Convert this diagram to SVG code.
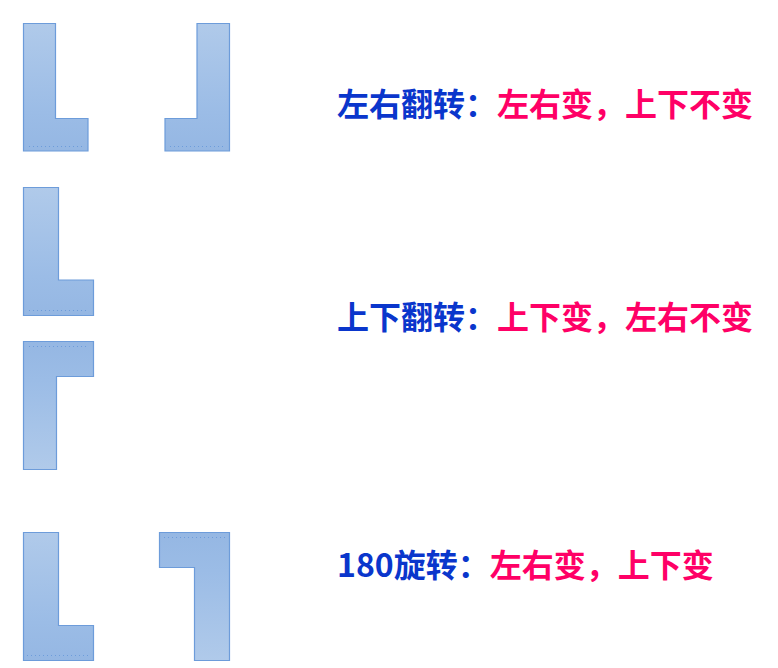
<svg xmlns="http://www.w3.org/2000/svg" width="778" height="668" viewBox="0 0 778 668">
<style>
.shape{stroke:#6d9cda;stroke-width:1.2}
.dots{fill:none;stroke:#6d9cda;stroke-width:1;stroke-dasharray:1 3}
.lbl{font-family:"Noto Sans CJK SC","Microsoft YaHei",sans-serif;font-weight:bold;font-size:32px}
.blue{fill:#0a36cc}
.pink{fill:#ff0066}
</style>
<defs>
<linearGradient id="gDown" x1="0" y1="0" x2="0" y2="1">
<stop offset="0" stop-color="#b0caea"/>
<stop offset="0.7" stop-color="#9bbce6"/>
<stop offset="1" stop-color="#95b7e3"/>
</linearGradient>
<linearGradient id="gUp" x1="0" y1="1" x2="0" y2="0">
<stop offset="0" stop-color="#b0caea"/>
<stop offset="0.7" stop-color="#9bbce6"/>
<stop offset="1" stop-color="#95b7e3"/>
</linearGradient>
</defs>
<rect width="778" height="668" fill="#ffffff"/>
<g id="shape-L-original">
<path class="shape" fill="url(#gDown)" d="M23.5,23.5 H55.5 V118.5 H88 V151 H23.5 Z"/>
<line class="dots" x1="29" y1="146.5" x2="83" y2="146.5"/>
</g>
<g id="shape-L-mirrored">
<path class="shape" fill="url(#gDown)" d="M197,23.5 H229.5 V151 H165 V118.5 H197 Z"/>
<line class="dots" x1="170" y1="146.5" x2="225" y2="146.5"/>
</g>
<g id="shape-L-upper">
<path class="shape" fill="url(#gDown)" d="M23.5,187.5 H58.5 V280 H93.5 V315.5 H23.5 Z"/>
<line class="dots" x1="29" y1="310.5" x2="88" y2="310.5"/>
</g>
<g id="shape-L-flipped">
<path class="shape" fill="url(#gUp)" d="M23.5,341.5 H93.5 V376.5 H56.5 V469.5 H23.5 Z"/>
<line class="dots" x1="29" y1="346.5" x2="88" y2="346.5"/>
</g>
<g id="shape-L-lower">
<path class="shape" fill="url(#gDown)" d="M23.5,532.5 H58.5 V625.5 H93.5 V660.5 H23.5 Z"/>
<line class="dots" x1="27" y1="655.5" x2="90" y2="655.5"/>
</g>
<g id="shape-L-rotated">
<path class="shape" fill="url(#gUp)" d="M159.5,532.5 H229.5 V660.5 H194.5 V567.5 H159.5 Z"/>
<line class="dots" x1="164" y1="537.5" x2="226" y2="537.5"/>
</g>
<g id="label-mirror">
<text class="lbl" x="337" y="115.5"><tspan class="blue">左右翻转：</tspan><tspan class="pink">左右变，上下不变</tspan></text>
</g>
<g id="label-flip">
<text class="lbl" x="337" y="328.5"><tspan class="blue">上下翻转：</tspan><tspan class="pink">上下变，左右不变</tspan></text>
</g>
<g id="label-rotate">
<text class="lbl" x="337" y="577"><tspan class="blue">180旋转：</tspan><tspan class="pink">左右变，上下变</tspan></text>
</g>
<g id="connectors"></g>
</svg>
